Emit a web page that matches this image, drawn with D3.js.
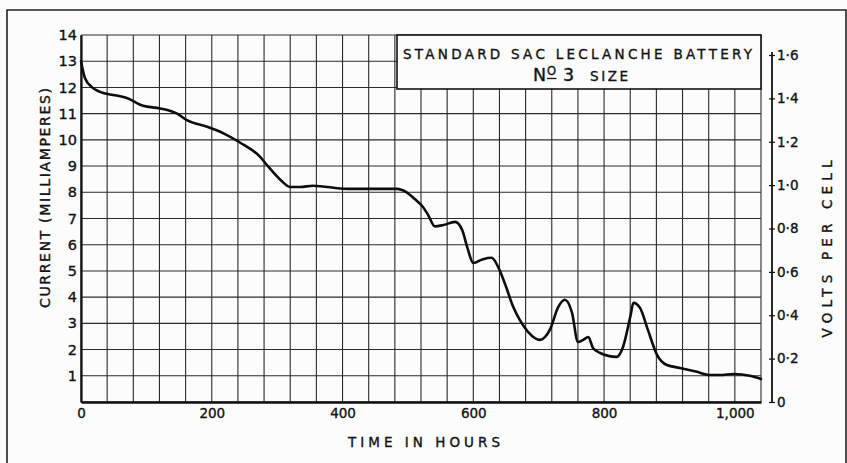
<!DOCTYPE html>
<html>
<head>
<meta charset="utf-8">
<script src="https://cdn.jsdelivr.net/npm/d3@7/dist/d3.min.js"></script>
<style>
  html, body { margin: 0; padding: 0; background: #fcfcfc; }
  svg { display: block; }
  text { font-family: "DejaVu Sans", "Liberation Sans", Arial, sans-serif; fill: #111; stroke: #111; stroke-width: 0.35px; }
</style>
</head>
<body>
<svg id="chart" width="847" height="463"></svg>
<script>
// Discharge of a standard sac Leclanché cell (No. 3 size)
const hours = [0, 6, 17, 29, 52, 70, 95, 121, 147, 162, 193, 218, 243, 274, 284, 304, 320, 335, 355, 407,
  483, 498, 510, 523, 531, 541, 554, 572, 583, 591, 600, 615, 628, 638, 648, 661, 671, 684, 702, 717,
  730, 740, 751, 760, 768, 776, 783, 794, 819, 829, 840, 845, 855, 867, 881, 896, 916, 942, 962, 977,
  998, 1023, 1040];
const currentMA = [13.0, 12.36, 12.0, 11.83, 11.7, 11.6, 11.3, 11.2, 11.0, 10.75, 10.5, 10.25, 9.9, 9.35, 9.05, 8.5, 8.2, 8.2, 8.25, 8.13,
  8.13, 8.0, 7.75, 7.44, 7.13, 6.7, 6.75, 6.87, 6.56, 5.88, 5.3, 5.45, 5.5, 5.15, 4.54, 3.63, 3.13, 2.67, 2.37, 2.75,
  3.63, 3.9, 3.4, 2.29, 2.37, 2.48, 2.06, 1.87, 1.72, 2.1, 3.24, 3.78, 3.59, 2.75, 1.8, 1.41, 1.3, 1.15, 1.03, 1.03,
  1.07, 1.0, 0.88];

const currentTicks = [1, 2, 3, 4, 5, 6, 7, 8, 9, 10, 11, 12, 13, 14];
const hourTicks = [0, 200, 400, 600, 800, 1000];
const voltTicks = [0, 0.2, 0.4, 0.6, 0.8, 1.0, 1.2, 1.4, 1.6];
const hourGrid = d3.range(0, 1041, 40);
const currentGrid = d3.range(0, 15, 1);

const titleLine1 = "STANDARD SAC LECLANCHE BATTERY";
const titleNo = "N";
const titleO = "O";
const titleSize = "3";
const titleWord = "SIZE";
const xTitle = "TIME IN HOURS";
const yTitle = "CURRENT (MILLIAMPERES)";
const vTitle = "VOLTS PER CELL";

const svg = d3.select("#chart");
const font = "DejaVu Sans, Liberation Sans, Arial, sans-serif";

const x = d3.scaleLinear().domain([0, 1040]).range([81, 761]);
const y = d3.scaleLinear().domain([0, 14]).range([402, 35]);
const v = d3.scaleLinear().domain([0, 1.6]).range([402, 55]);

// outer frame
svg.append("path")
  .attr("d", "M7,463 L7,10 L846,10 L846,463")
  .attr("fill", "none").attr("stroke", "#222").attr("stroke-width", 1.6);

// grid
const grid = svg.append("g").attr("stroke", "#2a2a2a").attr("stroke-width", 1.1);
grid.selectAll("line.v").data(hourGrid).join("line")
  .attr("class", "v")
  .attr("x1", d => x(d)).attr("x2", d => x(d))
  .attr("y1", y(0)).attr("y2", y(14));
grid.selectAll("line.h").data(currentGrid).join("line")
  .attr("class", "h")
  .attr("x1", x(0)).attr("x2", x(1040))
  .attr("y1", d => y(d)).attr("y2", d => y(d));

// title box
const box = svg.append("g");
box.append("rect")
  .attr("x", 397).attr("y", y(14))
  .attr("width", x(1040) - 397).attr("height", 54)
  .attr("fill", "#fcfcfc").attr("stroke", "#111").attr("stroke-width", 1.6);
box.append("text")
  .attr("x", 403).attr("y", 59)
  .attr("font-size", 13.5)
  .attr("textLength", 349).attr("lengthAdjust", "spacing")
  .text(titleLine1);
box.append("text").attr("x", 533).attr("y", 81).attr("font-size", 17.5).text(titleNo);
box.append("text").attr("x", 547).attr("y", 75).attr("font-size", 11.5).text(titleO);
box.append("line")
  .attr("x1", 547).attr("x2", 556.5).attr("y1", 78.5).attr("y2", 78.5)
  .attr("stroke", "#111").attr("stroke-width", 1.3);
box.append("text").attr("x", 563).attr("y", 81).attr("font-size", 17.5).text(titleSize);
box.append("text").attr("x", 590).attr("y", 81).attr("font-size", 13.5)
  .attr("textLength", 38).attr("lengthAdjust", "spacing").text(titleWord);

// left axis
const yAxis = svg.append("g")
  .attr("transform", `translate(${x(0)},0)`)
  .call(d3.axisLeft(y).tickValues(currentTicks).tickSize(0).tickPadding(4));
yAxis.select(".domain").attr("stroke", "#111").attr("stroke-width", 2.2);
yAxis.selectAll("text").attr("font-size", 14.5).attr("font-family", font).attr("fill", "#111");

// bottom axis
const xAxis = svg.append("g")
  .attr("transform", `translate(0,${y(0)})`)
  .call(d3.axisBottom(x).tickValues(hourTicks).tickSize(0).tickPadding(6).tickFormat(d3.format(",")));
xAxis.select(".domain").attr("stroke", "#111").attr("stroke-width", 2.4);
xAxis.selectAll("text").attr("font-size", 13.5).attr("font-family", font).attr("fill", "#111");

// right (voltage) axis
const vAxis = svg.append("g")
  .attr("transform", "translate(772,0)")
  .call(d3.axisRight(v).tickValues(voltTicks).tickSize(3).tickPadding(2)
    .tickFormat(d => d === 0 ? "0" : d3.format(".1f")(d).replace(".", "·")));
vAxis.select(".domain").attr("stroke", "#111").attr("stroke-width", 1.8).attr("d", `M0,${v(1.6) - 3}V${v(0)}`);
vAxis.selectAll(".tick line").attr("x1", -3).attr("x2", 3).attr("stroke", "#111").attr("stroke-width", 1.2);
vAxis.selectAll("text").attr("font-size", 13.5).attr("font-family", font).attr("fill", "#111");

// axis titles
svg.append("text")
  .attr("x", 424).attr("y", 447)
  .attr("text-anchor", "middle")
  .attr("font-size", 13.5)
  .attr("textLength", 152).attr("lengthAdjust", "spacing")
  .text(xTitle);
svg.append("text")
  .attr("transform", "translate(50,198) rotate(-90)")
  .attr("text-anchor", "middle")
  .attr("font-size", 14)
  .attr("textLength", 220).attr("lengthAdjust", "spacing")
  .text(yTitle);
svg.append("text")
  .attr("transform", "translate(832,249) rotate(-90)")
  .attr("text-anchor", "middle")
  .attr("font-size", 13.5)
  .attr("textLength", 177).attr("lengthAdjust", "spacing")
  .text(vTitle);

// discharge curve
const data = hours.map((h, i) => ({ h, c: currentMA[i] }));
svg.append("path")
  .datum(data)
  .attr("fill", "none")
  .attr("stroke", "#0d0d0d")
  .attr("stroke-width", 2.6)
  .attr("stroke-linejoin", "round")
  .attr("stroke-linecap", "round")
  .attr("d", d3.line().x(d => x(d.h)).y(d => y(d.c)).curve(d3.curveMonotoneX));
</script>
</body>
</html>
